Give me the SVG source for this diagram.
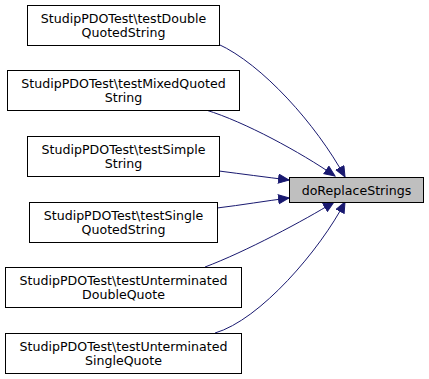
<svg xmlns="http://www.w3.org/2000/svg" width="429" height="379" viewBox="0 0 429 379">
<defs>
<marker id="arr" markerUnits="userSpaceOnUse" markerWidth="13" markerHeight="11" refX="11" refY="5" orient="auto">
<polygon points="0.5,0.5 11,5 0.5,9.5" fill="#191970" stroke="#191970"/>
</marker>
<style>
.box{fill:#ffffff;stroke:#000000;stroke-width:1}
.tgt{fill:#bfbfbf;stroke:#000000;stroke-width:1}
text{font-family:"DejaVu Sans",sans-serif;font-size:12.6px;text-anchor:middle;fill:#000000}
.edge{fill:none;stroke:#191970;stroke-width:1;marker-end:url(#arr)}
</style>
</defs>
<rect width="429" height="379" fill="#ffffff"/>
<g id="connectors">
<path class="edge" d="M218,44 C262,64 316,124 345,177"/>
<path class="edge" d="M206,110 C245,122 300,152 335,176"/>
<path class="edge" d="M219,171 C242,174 265,177 289,180"/>
<path class="edge" d="M217,208 C242,205 265,201 289,198"/>
<path class="edge" d="M205,267 C245,252 305,220 334,202"/>
<path class="edge" d="M215,333 C260,320 320,250 345,202"/>
</g>
<g id="target">
<rect class="tgt" x="289.5" y="177.5" width="134" height="25"/>
<text x="356.5" y="194.5">doReplaceStrings</text>
</g>
<g id="n1">
<rect class="box" x="27.5" y="5.5" width="192" height="40"/>
<text x="123.5" y="22.5">StudipPDOTest\testDouble</text>
<text x="123.5" y="36.5">QuotedString</text>
</g>
<g id="n2">
<rect class="box" x="7.5" y="70.5" width="232" height="40"/>
<text x="123.5" y="87.5">StudipPDOTest\testMixedQuoted</text>
<text x="123.5" y="101.5">String</text>
</g>
<g id="n3">
<rect class="box" x="27.5" y="136.5" width="192" height="40"/>
<text x="123.5" y="153.5">StudipPDOTest\testSimple</text>
<text x="123.5" y="167.5">String</text>
</g>
<g id="n4">
<rect class="box" x="29.5" y="202.5" width="188" height="40"/>
<text x="123.5" y="219.5">StudipPDOTest\testSingle</text>
<text x="123.5" y="233.5">QuotedString</text>
</g>
<g id="n5">
<rect class="box" x="5.5" y="267.5" width="236" height="40"/>
<text x="123.5" y="284.5">StudipPDOTest\testUnterminated</text>
<text x="123.5" y="298.5">DoubleQuote</text>
</g>
<g id="n6">
<rect class="box" x="5.5" y="333.5" width="236" height="40"/>
<text x="123.5" y="350.5">StudipPDOTest\testUnterminated</text>
<text x="123.5" y="364.5">SingleQuote</text>
</g>
</svg>
